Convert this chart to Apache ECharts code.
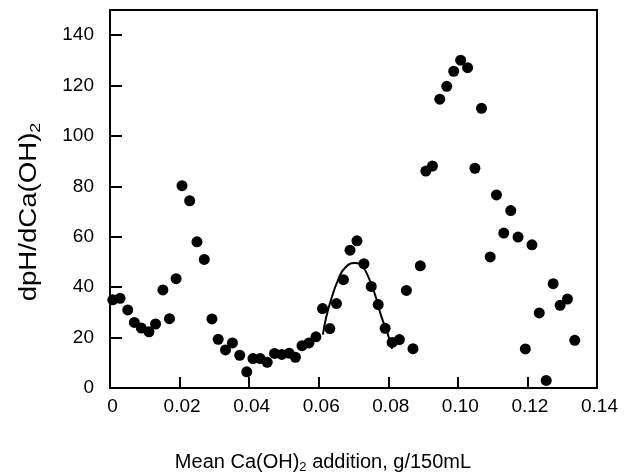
<!DOCTYPE html>
<html>
<head>
<meta charset="utf-8">
<script src="https://cdn.jsdelivr.net/npm/echarts@6/dist/echarts.min.js"></script>
<style>html,body{margin:0;padding:0;background:#fff;}#c{width:625px;height:476px;}</style>
</head>
<body>
<div id="c"></div>
<script>
// Measured points (x: Mean Ca(OH)2 addition, g/150mL ; y: dpH/dCa(OH)2)
var pointX = [0.0008,0.0029,0.0051,0.0070,0.0090,0.0112,0.0131,0.0152,0.0171,0.0190,
  0.0207,0.0229,0.0250,0.0271,0.0293,0.0311,0.0332,0.0352,0.0373,0.0393,
  0.0411,0.0432,0.0452,0.0473,0.0494,0.0515,0.0533,0.0552,0.0572,0.0592,
  0.0611,0.0632,0.0651,0.0671,0.0690,0.0710,0.0730,0.0751,0.0771,0.0791,
  0.0811,0.0832,0.0852,0.0871,0.0892,0.0908,0.0927,0.0948,0.0968,0.0988,
  0.1008,0.1028,0.1049,0.1068,0.1093,0.1111,0.1132,0.1152,0.1173,0.1194,
  0.1213,0.1234,0.1254,0.1274,0.1294,0.1315,0.1336];
var pointY = [35.0,35.6,31.0,26.0,23.8,22.3,25.4,38.9,27.5,43.4,
  80.3,74.3,58.0,51.0,27.4,19.3,15.1,17.9,13.0,6.4,
  11.7,11.7,10.2,13.7,13.3,13.8,12.2,16.8,17.9,20.3,
  31.5,23.6,33.5,43.0,54.7,58.4,49.3,40.3,33.1,23.7,
  18.1,19.2,38.7,15.6,48.5,86.1,88.1,114.6,119.7,125.7,
  130.1,127.1,87.2,111.0,52.0,76.6,61.5,70.4,59.9,15.5,
  56.8,29.8,3.0,41.4,32.8,35.3,18.9];
// Fitted peak curve
var curveX = [0.0612,0.0622,0.0637,0.0656,0.0675,0.0702,0.0723,0.0742,0.0762,0.0780,0.0799,0.0811];
var curveY = [21.2,28.4,35.7,43.0,47.6,49.6,48.6,44.3,37.0,28.4,21.2,15.6];
var xTickLabels = ['0','0.02','0.04','0.06','0.08','0.10','0.12','0.14'];
var yTickLabels = ['0','20','40','60','80','100','120','140'];

var FONT = 'Liberation Sans';
var chart = echarts.init(document.getElementById('c'), null, {renderer:'canvas'});
var pts = pointX.map(function(x,i){return [x, pointY[i]];});
var curve = curveX.map(function(x,i){return [x, curveY[i]];});

chart.setOption({
  animation:false,
  backgroundColor:'#fff',
  grid:{left:110, right:28, top:10, bottom:88, show:true, borderColor:'#000', borderWidth:2, backgroundColor:'transparent'},
  xAxis:{type:'value', min:0, max:0.14, interval:0.02,
    axisLine:{lineStyle:{color:'#000', width:2}},
    axisTick:{inside:true, length:11, lineStyle:{color:'#000', width:2}},
    axisLabel:{color:'#000', fontSize:19, fontFamily:FONT, margin:9, padding:[0,0,0,5],
      formatter:function(v){var i=Math.round(v/0.02);return xTickLabels[i]||'';}},
    splitLine:{show:false}},
  yAxis:{type:'value', min:0, max:150, interval:20,
    axisLine:{show:true, lineStyle:{color:'#000', width:2}},
    axisTick:{show:true, inside:true, length:12, lineStyle:{color:'#000', width:2}},
    axisLabel:{color:'#000', fontSize:19, fontFamily:FONT, margin:16,
      formatter:function(v){var i=Math.round(v/20);return (v%20===0 && yTickLabels[i])?yTickLabels[i]:'';}},
    splitLine:{show:false}},
  graphic:[
    {type:'text', x:323, y:462, style:{text:'Mean Ca(OH){s|2} addition, g/150mL', fontSize:20, fontFamily:FONT, fill:'#000', align:'center', verticalAlign:'middle',
      rich:{s:{fontSize:13, fontFamily:FONT, fill:'#000', padding:[11,0,0,0]}}}},
    {type:'text', x:30, y:212, rotation:Math.PI/2, scaleX:1.2, style:{text:'dpH/dCa(OH){s|2}', fontSize:23, fontFamily:FONT, fill:'#000', align:'center', verticalAlign:'middle',
      rich:{s:{fontSize:15, fontFamily:FONT, fill:'#000', padding:[12,0,0,0]}}}}
  ],
  series:[
    {type:'scatter', data:pts, symbol:'circle', symbolSize:11, itemStyle:{color:'#000', opacity:1}, z:3},
    {type:'line', data:curve, smooth:true, showSymbol:false, symbol:'none', lineStyle:{color:'#000', width:2}, z:2}
  ]
});
</script>
</body>
</html>
